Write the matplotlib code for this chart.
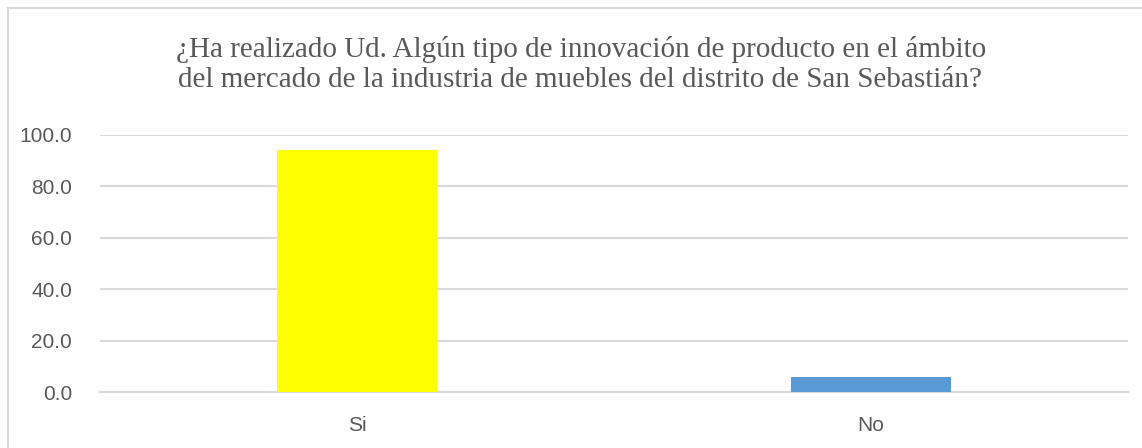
import matplotlib
matplotlib.use('Agg')
import matplotlib.pyplot as plt
from matplotlib.lines import Line2D
from matplotlib.ticker import FormatStrFormatter

categories = ['Si', 'No']
values = [94.2, 5.8]
bar_colors = ['#FFFF00', '#5B9BD5']
title_lines = ['¿Ha realizado Ud. Algún tipo de innovación de producto en el ámbito',
               'del mercado de la industria de muebles del distrito de San Sebastián?']

W, H = 1142, 448
fig = plt.figure(figsize=(W / 100, H / 100), dpi=100)
ax = fig.add_axes([100 / W, 56 / H, 1028 / W, 257.3 / H])

x = range(len(categories))
ax.bar(x, values, width=0.313, color=bar_colors, zorder=3)
ax.set_xlim(-0.5, len(categories) - 0.5)
ax.set_ylim(0, 100)
ax.set_yticks([0, 20, 40, 60, 80, 100])
ax.yaxis.set_major_formatter(FormatStrFormatter('%.1f'))
ax.set_xticks(list(x))
ax.set_xticklabels(categories)

for lbl in ax.get_xticklabels() + ax.get_yticklabels():
    lbl.set_fontfamily('Liberation Sans')
    lbl.set_fontsize(15)
    lbl.set_color('#595959')
ax.tick_params(axis='y', length=0, pad=20)
ax.tick_params(axis='x', length=0, pad=17)

ax.grid(axis='y', color='#d9d9d9', linewidth=1.5, zorder=0)
for side in ['left', 'right', 'top']:
    ax.spines[side].set_visible(False)
ax.spines['bottom'].set_color('#d9d9d9')
ax.spines['bottom'].set_linewidth(1.5)

# titulo en dos lineas
fig.text(581 / W, 1 - 57 / H, title_lines[0], ha='center', va='baseline',
         fontfamily='Liberation Serif', fontsize=21, color='#595959')
fig.text(580 / W, 1 - 87 / H, title_lines[1], ha='center', va='baseline',
         fontfamily='Liberation Serif', fontsize=21, color='#595959')

# borde del grafico (solo izquierda y arriba visibles)
bx, by = 7.5 / W, 1 - 8.5 / H
fig.lines.append(Line2D([bx, bx], [0, by], transform=fig.transFigure,
                        color='#d9d9d9', linewidth=1.5))
fig.lines.append(Line2D([bx, 1], [by, by], transform=fig.transFigure,
                        color='#d9d9d9', linewidth=1.5))

fig.savefig('out.png', dpi=100)
